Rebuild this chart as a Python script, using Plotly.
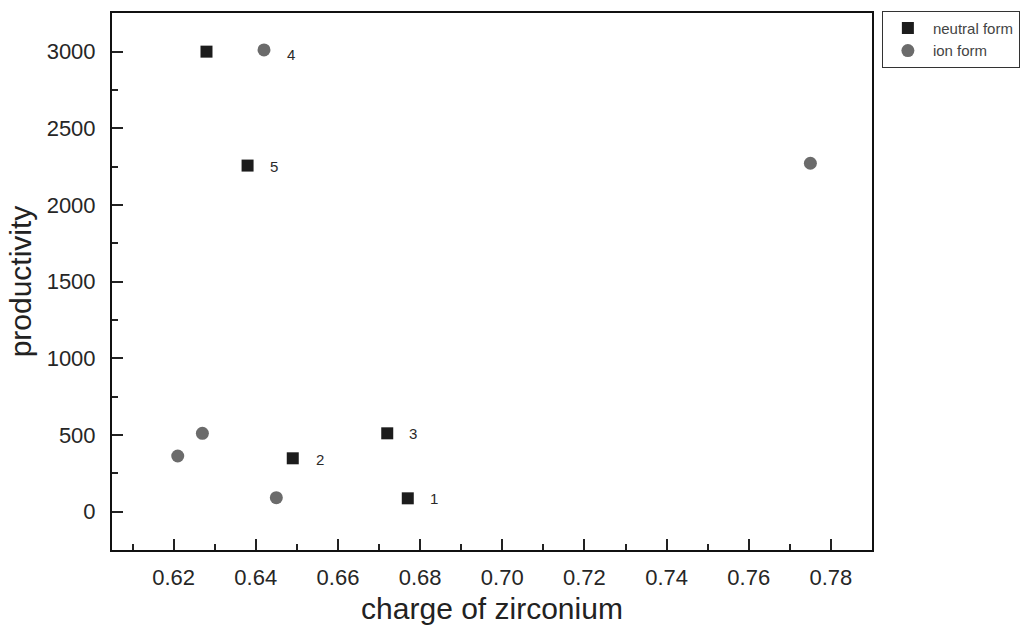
import plotly.graph_objects as go

# charge of zirconium vs productivity for the two catalyst forms
neutral_charge = [0.677, 0.649, 0.672, 0.628, 0.638]
neutral_prod = [87, 348, 511, 3000, 2257]
ion_charge = [0.621, 0.627, 0.645, 0.642, 0.775]
ion_prod = [363, 511, 91, 3011, 2272]

# numbered point labels: (text, x, y, pixel shift right, pixel shift up)
point_labels = [
    ("1", 0.677, 87, 26, 0),
    ("2", 0.649, 348, 27, -1),
    ("3", 0.672, 511, 26, 0),
    ("4", 0.642, 3011, 27, -5),
    ("5", 0.638, 2257, 26, -1),
]

FONT = "Liberation Sans, Arial, sans-serif"

fig = go.Figure()
fig.add_trace(go.Scatter(
    x=neutral_charge, y=neutral_prod, mode="markers", name="neutral form",
    marker=dict(symbol="square", size=12, color="#1c1c1c"),
))
fig.add_trace(go.Scatter(
    x=ion_charge, y=ion_prod, mode="markers", name="ion form",
    marker=dict(symbol="circle", size=13, color="#6b6b6b"),
))

for txt, x, y, dx, dy in point_labels:
    fig.add_annotation(
        x=x, y=y, xref="x", yref="y", text=txt, showarrow=False,
        xshift=dx, yshift=dy, font=dict(family=FONT, size=15, color="#2a2a2a"),
    )

axis_common = dict(
    showline=True, linecolor="#111111", linewidth=2, mirror=True,
    ticks="inside", ticklen=11, tickwidth=1.5, tickcolor="#222222",
    showgrid=False, zeroline=False,
    tickfont=dict(family=FONT, size=22, color="#262626"),
)

fig.update_xaxes(
    **axis_common,
    range=[0.605, 0.79], tick0=0.62, dtick=0.02, tickformat=".2f",
    minor=dict(ticks="inside", ticklen=6, dtick=0.01, tick0=0.61,
               tickcolor="#222222", tickwidth=1.5),
    ticklabelstandoff=7,
    title=dict(text="charge of zirconium", standoff=9,
               font=dict(family=FONT, size=30, color="#222222")),
)
fig.update_yaxes(
    **axis_common,
    range=[-250, 3252], tick0=0, dtick=500,
    minor=dict(ticks="inside", ticklen=6, dtick=250, tick0=0,
               tickcolor="#222222", tickwidth=1.5),
    ticklabelstandoff=10,
    title=dict(text="productivity", standoff=6,
               font=dict(family=FONT, size=30, color="#222222")),
)

fig.update_layout(
    width=1032, height=632,
    margin=dict(l=112, r=160, t=13, b=82, autoexpand=False),
    paper_bgcolor="white", plot_bgcolor="white",
    showlegend=True,
    legend=dict(
        x=1.013, y=1.004, xanchor="left", yanchor="top",
        bordercolor="#333333", borderwidth=1,
        font=dict(family=FONT, size=15, color="#444444"),
        itemwidth=40, tracegroupgap=0,
    ),
)

fig.write_html("out.html")
